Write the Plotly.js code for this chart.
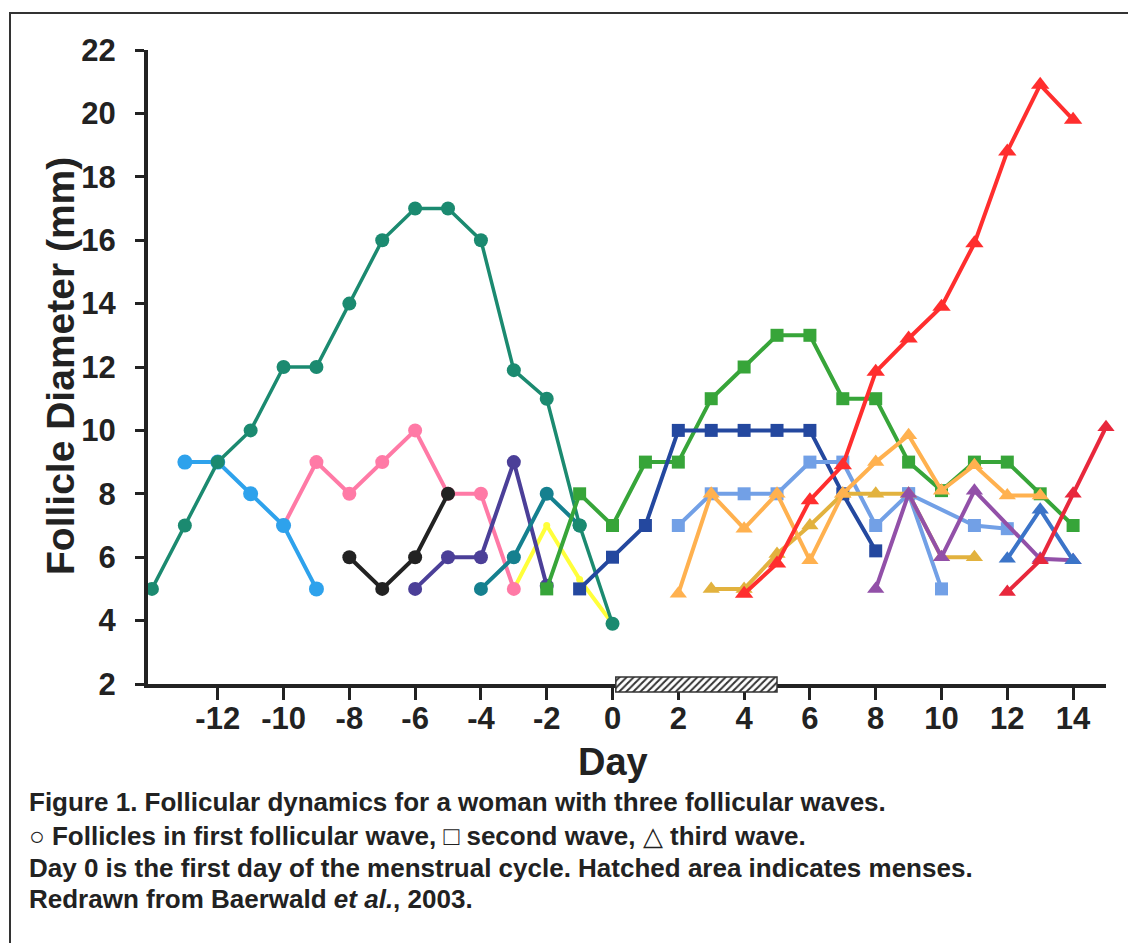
<!DOCTYPE html>
<html><head><meta charset="utf-8">
<script src="https://cdn.plot.ly/plotly-3.0.1.min.js"></script>
<style>html,body{margin:0;padding:0;background:#fff}#chart{width:1128px;height:943px}</style>
</head><body><div id="chart"></div>
<script>
// ---- data (day, follicle diameter in mm) ----
const xTickVals = [-12,-10,-8,-6,-4,-2,0,2,4,6,8,10,12,14];
const xTickText = ['-12','-10','-8','-6','-4','-2','0','2','4','6','8','10','12','14'];
const yTickVals = [2,4,6,8,10,12,14,16,18,20,22];
const mensesStart = 0.1, mensesEnd = 5;

// first wave (circles)
const tealMainDays = [-14,-13,-12,-11,-10,-9,-8,-7,-6,-5,-4,-3,-2,-1,0];
const tealMainVals = [5,7,9,10,12,12,14,16,17,17,16,11.9,11,7,3.9];
const lightBlueDays = [-13,-12,-11,-10,-9];
const lightBlueVals = [9,9,8,7,5];
const pinkDays = [-10,-9,-8,-7,-6,-5,-4,-3];
const pinkVals = [7,9,8,9,10,8,8,5];
const blackDays = [-8,-7,-6,-5];
const blackVals = [6,5,6,8];
const indigoDays = [-6,-5,-4,-3,-2];
const indigoVals = [5,6,6,9,5.1];
const tealBlueDays = [-4,-3,-2,-1];
const tealBlueVals = [5,6,8,7];
const yellowDays = [-3,-2,-1,0];
const yellowVals = [5,7,5.3,3.9];

// second wave (squares)
const greenDays = [-2,-1,0,1,2,3,4,5,6,7,8,9,10,11,12,13,14];
const greenVals = [5,8,7,9,9,11,12,13,13,11,11,9,8.1,9,9,8,7];
const navyDays = [-1,0,1,2,3,4,5,6,7,8];
const navyVals = [5,6,7,10,10,10,10,10,8,6.2];
const cornflowerDays = [2,3,4,5,6,7,8,9,10];
const cornflowerVals = [7,8,8,8,9,9,7,8,5];
const cornflower2Days = [9,11,12];
const cornflower2Vals = [8,7,6.9];

// third wave (triangles)
const orangeDays = [2,3,4,5,6,7,8,9,10,11,12,13];
const orangeVals = [4.85,8,6.9,8,5.9,8,9,9.85,8.1,8.9,7.95,7.95];
const mustardDays = [3,4,5,6,7,8,9,10,11];
const mustardVals = [5,5,6.1,7,8,8,8,6,6];
const redDays = [4,5,6,7,8,9,10,11,12,13,14];
const redVals = [4.85,5.8,7.8,8.9,11.85,12.9,13.9,15.9,18.8,20.9,19.8];
const purpleDays = [8,9,10,11,13,14];
const purpleVals = [5,8,6,8.1,5.95,5.9];
const blueDays = [12,13,14];
const blueVals = [5.95,7.5,5.9];
const red2Days = [12,13,14,15];
const red2Vals = [4.9,5.9,8,10.1];

// ---- geometry helpers (pixels -> paper) ----
const W = 1128, H = 943, ML = 148, MR = 22, MT = 50, MB = 243;
const PW = W - ML - MR, PH = H - MT - MB;
const px = v => (v - ML) / PW;
const py = v => (H - MB - v) / PH;

function mk(days, vals, color, symbol, size, width) {
  return {type:'scatter', mode:'lines+markers', x:days, y:vals, xaxis:'x', yaxis:'y',
    line:{color:color, width:width||4}, cliponaxis:false,
    marker:{color:color, symbol:symbol, size:size, line:{width:0}},
    hoverinfo:'skip', showlegend:false};
}

const traces = [
  mk(yellowDays, yellowVals, '#ffff3a', 'circle', 7, 4),
  mk(pinkDays, pinkVals, '#ff7aa6', 'circle', 14),
  mk(blackDays, blackVals, '#222222', 'circle', 14),
  mk(lightBlueDays, lightBlueVals, '#2ea2ec', 'circle', 15),
  mk(indigoDays, indigoVals, '#4b3f98', 'circle', 14),
  mk(tealBlueDays, tealBlueVals, '#15808f', 'circle', 14),
  mk(tealMainDays, tealMainVals, '#1b8a70', 'circle', 14, 3.5),
  mk(greenDays, greenVals, '#37a539', 'square', 13),
  mk(navyDays, navyVals, '#24489f', 'square', 13),
  mk(cornflowerDays, cornflowerVals, '#72a0e6', 'square', 13),
  mk(cornflower2Days, cornflower2Vals, '#72a0e6', 'square', 13),
  mk(mustardDays, mustardVals, '#e2b23e', 'triangle-up', 15),
  mk(orangeDays, orangeVals, '#ffb14f', 'triangle-up', 15),
  mk(purpleDays, purpleVals, '#9250a8', 'triangle-up', 15),
  mk(blueDays, blueVals, '#3b74c8', 'triangle-up', 15),
  mk(redDays, redVals, '#ff2e2e', 'triangle-up', 16),
  mk(red2Days, red2Vals, '#e8283c', 'triangle-up', 15),
  {type:'bar', x:[(mensesStart+mensesEnd)/2], width:[mensesEnd-mensesStart], y:[0.8], base:[0.1],
   xaxis:'x', yaxis:'y2', hoverinfo:'skip', showlegend:false,
   marker:{color:'#ffffff', line:{color:'#333', width:1.5},
     pattern:{shape:'/', fgcolor:'#333', bgcolor:'#ffffff', size:5, solidity:0.4}}}
];

const tickFont = {family:'Arial, "Liberation Sans", sans-serif', size:31, weight:'bold', color:'#222'};
const capFont = {family:'Arial, "Liberation Sans", sans-serif', size:26, color:'#222'};

const layout = {
  width:W, height:H, margin:{l:ML, r:MR, t:MT, b:MB},
  paper_bgcolor:'#fff', plot_bgcolor:'rgba(0,0,0,0)', showlegend:false,
  xaxis:{range:[-14.12, 15.0], tickvals:xTickVals, ticktext:xTickText, ticks:'outside', ticklen:12, tickwidth:3,
    tickcolor:'#222', showline:true, linewidth:4, linecolor:'#222', showgrid:false,
    zeroline:false, tickfont:tickFont, anchor:'y', ticklabelstandoff:-8},
  yaxis:{domain:[py(684), 1], range:[2,22], tickvals:yTickVals, ticks:'outside', ticklen:9,
    tickwidth:3, tickcolor:'#222', showline:true, linewidth:4, linecolor:'#222',
    showgrid:false, zeroline:false, tickfont:tickFont, anchor:'x', ticklabelstandoff:13},
  yaxis2:{domain:[py(694), py(675)], range:[0,1], visible:false, anchor:'x', fixedrange:true},
  shapes:[{type:'rect', xref:'paper', yref:'paper', x0:px(10), x1:px(1160), y0:py(990), y1:py(13),
    line:{color:'#333', width:2}, fillcolor:'rgba(0,0,0,0)', layer:'below'}],
  annotations:[
    {text:'Follicle Diameter (mm)', xref:'paper', yref:'paper', x:px(60), y:py(366),
     textangle:-90, showarrow:false, xanchor:'center', yanchor:'middle',
     font:{family:tickFont.family, size:39, weight:'bold', color:'#222'}},
    {text:'Day', xref:'paper', yref:'paper', x:px(613), y:py(762), showarrow:false,
     xanchor:'center', yanchor:'middle',
     font:{family:tickFont.family, size:38, weight:'bold', color:'#222'}},
    {text:'<b>Figure 1. Follicular dynamics for a woman with three follicular waves.</b>',
     xref:'paper', yref:'paper', x:px(27), y:py(802), xanchor:'left', yanchor:'middle', showarrow:false, font:capFont},
    {text:'\u25CB <b>Follicles in first follicular wave,</b> \u25A1 <b>second wave,</b> \u25B3 <b>third wave.</b>',
     xref:'paper', yref:'paper', x:px(27), y:py(836), xanchor:'left', yanchor:'middle', showarrow:false, font:capFont},
    {text:'<b>Day 0 is the first day of the menstrual cycle. Hatched area indicates menses.</b>',
     xref:'paper', yref:'paper', x:px(27), y:py(868), xanchor:'left', yanchor:'middle', showarrow:false, font:capFont},
    {text:'<b>Redrawn from Baerwald <i>et al.</i>, 2003.</b>',
     xref:'paper', yref:'paper', x:px(27), y:py(899), xanchor:'left', yanchor:'middle', showarrow:false, font:capFont}
  ]
};

Plotly.newPlot('chart', traces, layout, {staticPlot:true, displayModeBar:false});
</script>
</body></html>
